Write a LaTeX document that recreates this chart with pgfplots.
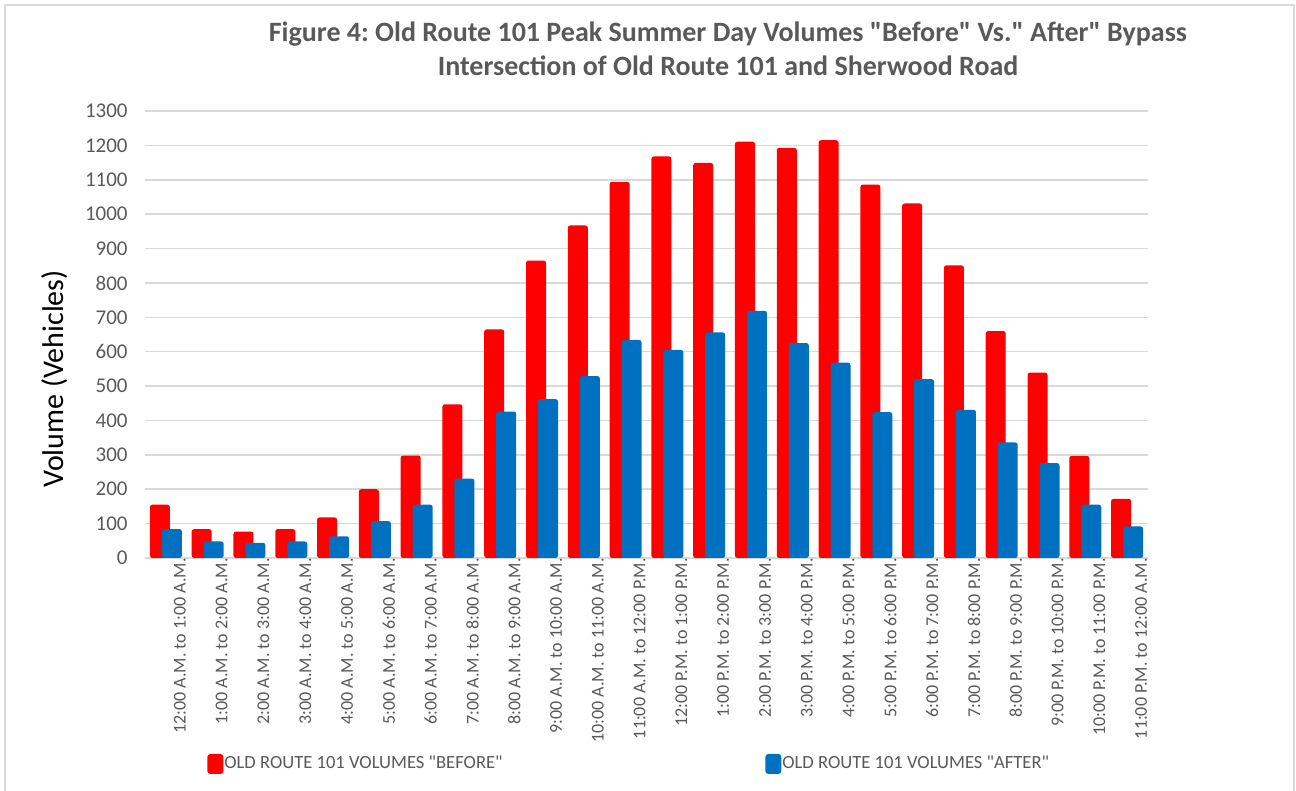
\documentclass[border=0pt]{standalone}
\usepackage{fontspec}
\setmainfont{Carlito}[Ligatures=TeXOff]
\usepackage{pgfplots}
\pgfplotsset{compat=1.18}
\definecolor{txtgray}{HTML}{595959}
\definecolor{gridgray}{HTML}{D9D9D9}
\definecolor{redbar}{HTML}{FF0000}
\definecolor{bluebar}{HTML}{0070C0}

\begin{document}
\frenchspacing
\begin{tikzpicture}
% page = 1296x791 px at 0.5pt per px, origin at the plot's lower left corner
\path[use as bounding box] (-72.5pt,-116.5pt) rectangle (575.5pt,279pt);
\draw[gridgray, line width=0.75pt] (-70pt,-116.5pt) -- (-70pt,276.5pt) -- (574.5pt,276.5pt) -- (574.5pt,-116.5pt);

\begin{axis}[
  at={(0pt,0pt)}, anchor=south west,
  scale only axis, width=501.5pt, height=223.5pt,
  ybar, bar width=10pt,
  xmin=-0.5, xmax=23.5, ymin=0, ymax=1300,
  enlargelimits=false,
  xtick={0,...,23},
  xticklabels={12:00 A.M. to 1:00 A.M., 1:00 A.M. to 2:00 A.M., 2:00 A.M. to 3:00 A.M.,
    3:00 A.M. to 4:00 A.M., 4:00 A.M. to 5:00 A.M., 5:00 A.M. to 6:00 A.M.,
    6:00 A.M. to 7:00 A.M., 7:00 A.M. to 8:00 A.M., 8:00 A.M. to 9:00 A.M.,
    9:00 A.M. to 10:00 A.M., 10:00 A.M. to 11:00 A.M., 11:00 A.M. to 12:00 P.M.,
    12:00 P.M. to 1:00 P.M., 1:00 P.M. to 2:00 P.M., 2:00 P.M. to 3:00 P.M.,
    3:00 P.M. to 4:00 P.M., 4:00 P.M. to 5:00 P.M., 5:00 P.M. to 6:00 P.M.,
    6:00 P.M. to 7:00 P.M., 7:00 P.M. to 8:00 P.M., 8:00 P.M. to 9:00 P.M.,
    9:00 P.M. to 10:00 P.M., 10:00 P.M. to 11:00 P.M., 11:00 P.M. to 12:00 A.M.},
  ytick={0,100,...,1300},
  major tick length=0pt,
  axis line style={draw=none},
  ymajorgrids, grid style={gridgray, line width=0.75pt},
  /pgf/number format/assume math mode=true,
  /pgf/number format/1000 sep={},
  yticklabel style={font=\fontsize{10.5}{12}\selectfont, text=txtgray, anchor=east, inner sep=0pt, xshift=-8.5pt},
  xticklabel style={font=\fontsize{9}{10}\selectfont, text=txtgray, rotate=90, anchor=east, inner sep=0pt, yshift=-7pt},
  ylabel={Volume (Vehicles)},
  ylabel style={font=\fontsize{15}{17}\selectfont, at={(axis description cs:-0.0897,0.4004)}, anchor=center},
  title={Figure 4: Old Route 101 Peak Summer Day Volumes "Before" Vs." After" Bypass\\Intersection of Old Route 101 and Sherwood Road},
  title style={font=\bfseries\fontsize{14}{17}\selectfont, text=txtgray, align=center, at={(axis description cs:0.5813,1.113)}, anchor=center},
  legend columns=2,
  legend style={draw=none, fill=none, at={(axis description cs:0.0558,-0.4608)}, anchor=west,
    font=\fontsize{9.3}{10}\selectfont, text=txtgray,
    /tikz/every even column/.append style={column sep=0pt},
    nodes={inner sep=0.5pt}},
  legend image code/.code={\fill[#1, rounded corners=1.5pt] (0pt,-5pt) rectangle (8pt,5pt);},
]
\addplot[fill=redbar, draw=none, bar shift=-3pt, rounded corners=1.2pt] coordinates {
  (0,155) (1,84) (2,77) (3,84) (4,118) (5,200) (6,298) (7,447) (8,665) (9,865)
  (10,967) (11,1094) (12,1168) (13,1149) (14,1211) (15,1193) (16,1215) (17,1086)
  (18,1031) (19,851) (20,660) (21,539) (22,297) (23,172)};
\addplot[fill=bluebar, draw=none, bar shift=3pt, rounded corners=1.2pt] coordinates {
  (0,84) (1,48) (2,44) (3,48) (4,63) (5,107) (6,155) (7,231) (8,426) (9,462)
  (10,529) (11,634) (12,605) (13,656) (14,719) (15,625) (16,568) (17,424)
  (18,520) (19,431) (20,336) (21,276) (22,155) (23,92)};
\legend{\makebox[270pt][l]{OLD ROUTE 101 VOLUMES "BEFORE"}, OLD ROUTE 101 VOLUMES "AFTER"}
\end{axis}
\end{tikzpicture}
\end{document}
